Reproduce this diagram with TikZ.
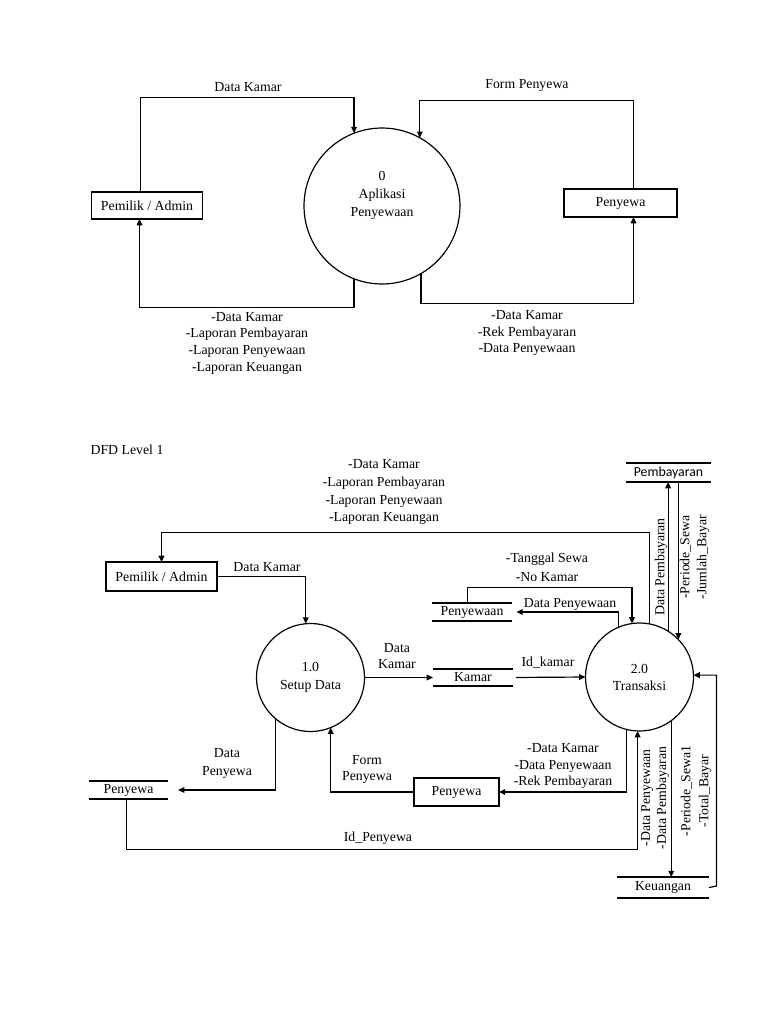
\documentclass[tikz,border=0pt]{standalone}
\usepackage{fontspec}
\setmainfont{Liberation Serif}
\newfontfamily\sansf{Carlito}
\usetikzlibrary{arrows.meta}
\begin{document}
\begin{tikzpicture}[x=0.797pt,y=-0.797pt,
  font=\fontsize{11}{13.5}\selectfont, line width=0.95pt,
  arr/.style={-{Triangle[length=5pt,width=4.5pt]}},
  box/.style={draw, inner sep=0pt, outer sep=0pt},
  proc/.style={draw, circle, inner sep=0pt, outer sep=0pt, align=center},
  store/.style={inner sep=0pt, outer sep=0pt},
  storeline/.style={line width=0.95pt},
  lbl/.style={inner sep=0pt, align=center},
  rlbl/.style={inner sep=0pt, align=center, rotate=90}]
\useasboundingbox (0,0) rectangle (768,1024);

% ===== Context diagram =====
\node[box, minimum width=89pt, minimum height=21.5pt] (p0) at (147,205.5) {Pemilik / Admin};
\node[box, minimum width=90pt, minimum height=22.3pt] (py0) at (620.5,203) {Penyewa};
\node[proc, minimum size=124.3pt,
  label={[name=c0t, align=center, yshift=8.8pt, font=\fontsize{11}{14.3}\selectfont]center:0\\Aplikasi\\Penyewaan}] (c0) at (382,206) {};

\coordinate (a1) at (140.5,97.5);
\coordinate (a2) at (139.5,307.5);
\coordinate (a3) at (633.5,100.5);
\coordinate (a4) at (633.5,303.5);

\draw[arr] (p0.north -| a1) -- (a1) -| (c0.111);
\draw[arr] (c0.249) |- (a2) -- (a2 |- p0.south);
\draw[arr] (py0.north -| a3) -- (a3) -| (c0.61);
\draw[arr] (c0.300) |- (a4) -- (a4 |- py0.south);

\node[lbl] (l01) at (248,87) {Data Kamar};
\node[lbl] (l02) at (527,85) {Form Penyewa};
\node[lbl, font=\fontsize{11}{13.3}\selectfont] (l03) at (247,343) {-Data Kamar\\-Laporan Pembayaran\\-Laporan Penyewaan\\-Laporan Keuangan};
\node[lbl, font=\fontsize{11}{13.3}\selectfont] (l04) at (527,333) {-Data Kamar\\-Rek Pembayaran\\-Data Penyewaan};

% ===== DFD Level 1 =====
\node[lbl, anchor=west] (title) at (90,450) {DFD Level 1};

\node[box, minimum width=88.5pt, minimum height=23.1pt] (pl1) at (161.5,576.5) {Pemilik / Admin};
\node[box, minimum width=67.7pt, minimum height=22.3pt] (py1) at (456.5,792) {Penyewa};

\node[proc, minimum size=86.1pt, font=\fontsize{11}{14.5}\selectfont] (c1) at (310.5,677.5) {1.0\\Setup Data};
\node[proc, minimum size=86.1pt, font=\fontsize{11}{13.5}\selectfont] (c2) at (639.5,677) {2.0\\Transaksi};

% data stores
\node[store, minimum width=67.7pt, minimum height=15.1pt, font=\sansf\fontsize{11}{13.5}\selectfont] (pb) at (668.5,472.5) {Pembayaran};
\node[store, minimum width=63.8pt, minimum height=14.3pt] (pw) at (472,612) {Penyewaan};
\node[store, minimum width=63.8pt, minimum height=13.5pt] (km) at (473,677.5) {Kamar};
\node[store, minimum width=63pt, minimum height=14.3pt] (ps) at (128.5,790) {Penyewa};
\node[store, minimum width=73.3pt, minimum height=16.7pt] (ku) at (663,887.5) {Keuangan};
\foreach \s in {pb,pw,km,ps,ku}{
  \draw[storeline] (\s.north west) -- (\s.north east) (\s.south west) -- (\s.south east);
}

\coordinate (t2) at (161.5,532.5);
\coordinate (e1) at (467.5,587.5);
\coordinate (l1) at (126.5,849.5);
\coordinate (n1) at (716.5,886);

% connectors
\draw[arr] (c2.79) |- (t2) -- (t2 |- pl1.north);
\draw[arr] (pl1.east) -| (c1.95);
\draw[arr] (c1.east) -- (km.west);
\draw[arr, shorten <=2.4pt] (km.east) -- (c2.west);
\draw[arr] (pw.north -| e1) -- (e1) -| (c2.98);
\draw[arr, shorten >=3.5pt] (c2.113) |- (pw.east);
\draw[arr] (c2.58) -- (c2.58 |- pb.south);
\draw[arr] (c2.44 |- pb.south) -- (c2.44);
\draw[arr] (c2.256) |- (py1.east);
\draw[arr] (py1.west) -| (c1.292);
\draw[arr, shorten >=8pt] (c1.230) |- (ps.east);
\draw[arr] (ps.south -| l1) -- (l1) -| (c2.268);
\draw[arr] (c2.306) -- (c2.306 |- ku.north);
\draw[arr] (ku.east) -- (n1) |- (c2.2);

% labels
\node[lbl, font=\fontsize{11}{14.3}\selectfont] (m1) at (384,492) {-Data Kamar\\-Laporan Pembayaran\\-Laporan Penyewaan\\-Laporan Keuangan};
\node[lbl] (m2) at (267,567) {Data Kamar};
\node[lbl, font=\fontsize{11}{12.8}\selectfont] (m3) at (397,656) {Data\\Kamar};
\node[lbl] (m4) at (548,663) {Id\_kamar};
\node[lbl, font=\fontsize{11}{14.8}\selectfont] (m5) at (547,567) {-Tanggal Sewa\\-No Kamar};
\node[lbl] (m6) at (570,604) {Data Penyewaan};
\node[lbl, font=\fontsize{11}{14.3}\selectfont] (m7) at (227,763) {Data\\Penyewa};
\node[lbl, font=\fontsize{11}{12.8}\selectfont] (m8) at (367,769) {Form\\Penyewa};
\node[lbl] (m9) at (563,766) {-Data Kamar\\-Data Penyewaan\\-Rek Pembayaran};
\node[lbl] (m10) at (378,838) {Id\_Penyewa};
\node[rlbl] (r1) at (661,567) {Data Pembayaran};
\node[rlbl] (r2) at (694.5,557) {-Periode\_Sewa\\-Jumlah\_Bayar};
\node[rlbl, font=\fontsize{11}{12.8}\selectfont] (r3) at (655,798) {-Data Penyewaan\\-Data Pembayaran};
\node[rlbl, font=\fontsize{11}{14.3}\selectfont] (r4) at (696,791) {-Periode\_Sewa1\\-Total\_Bayar};
\end{tikzpicture}
\end{document}
